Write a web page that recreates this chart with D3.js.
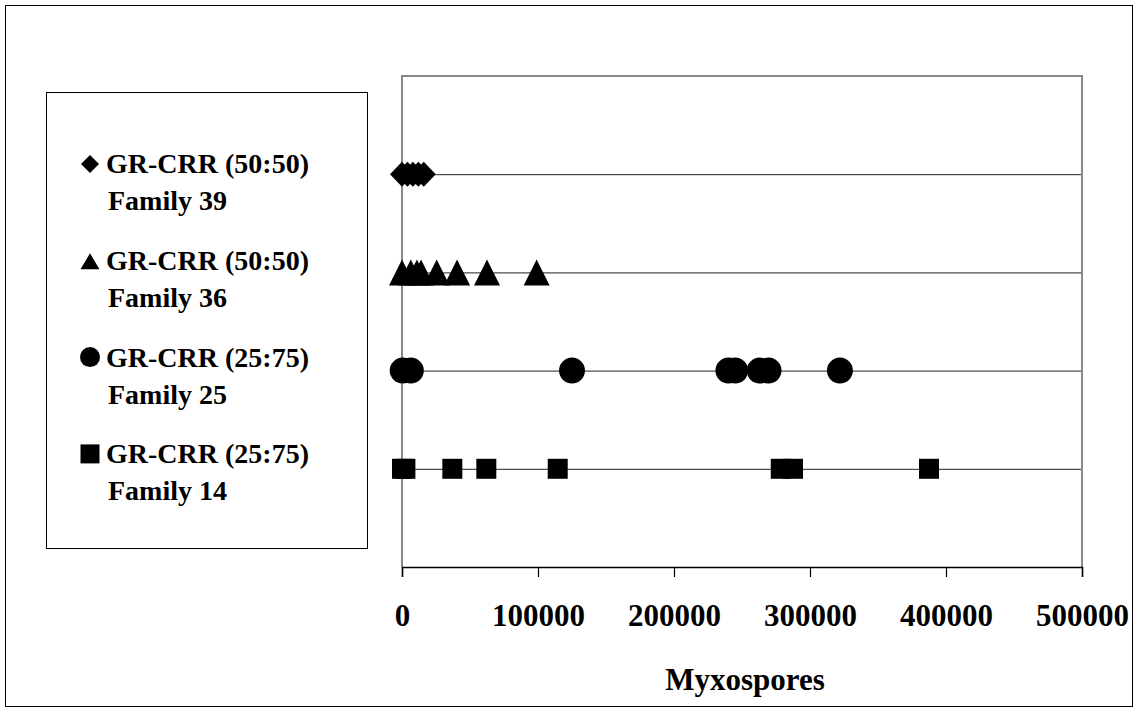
<!DOCTYPE html>
<html>
<head>
<meta charset="utf-8">
<script src="https://cdn.jsdelivr.net/npm/d3@7"></script>
<style>
  html, body { margin: 0; padding: 0; background: #fff; }
  svg text { font-family: "Liberation Serif", "Times New Roman", serif; font-weight: bold; fill: #000; }
</style>
</head>
<body>
<svg id="chart" width="1135" height="712"></svg>
<script>
// series values (myxospores)
var family39 = [0, 4000, 8000, 12000, 16000];
var family36 = [0, 6500, 11000, 14000, 25500, 40500, 62500, 99000];
var family25 = [500, 6500, 125000, 240000, 245000, 263000, 269500, 322000];
var family14 = [0, 2500, 37000, 62000, 114500, 278500, 287500, 387500];

var seriesNames = ['GR-CRR (50:50)', 'GR-CRR (50:50)', 'GR-CRR (25:75)', 'GR-CRR (25:75)'];
var familyNames = ['Family 39', 'Family 36', 'Family 25', 'Family 14'];
var shapes = ['diamond', 'triangle', 'circle', 'square'];
var rowValues = [family39, family36, family25, family14];
var rowLevels = [4, 3, 2, 1];

var xTicks = [0, 100000, 200000, 300000, 400000, 500000];
var xTitle = 'Myxospores';

(function() {
  var svg = d3.select('#chart');

  var plot = { left: 402, right: 1082, top: 76, bottom: 567 };

  var x = d3.scaleLinear().domain([0, 500000]).range([plot.left, plot.right]);
  var y = d3.scaleLinear().domain([0, 5]).range([plot.bottom, plot.top]);

  /**
   * Build a path for a marker, centred on 0,0.
   * @param {String} shape - diamond, triangle, circle or square
   * @param {Number} w - half width
   * @param {Number} h - half height
   */
  function markerPath(shape, w, h) {
    var p = d3.path();
    if (shape === 'diamond') {
      p.moveTo(0, -h); p.lineTo(w, 0); p.lineTo(0, h); p.lineTo(-w, 0); p.closePath();
    } else if (shape === 'triangle') {
      p.moveTo(0, -h); p.lineTo(w, h); p.lineTo(-w, h); p.closePath();
    } else if (shape === 'circle') {
      p.moveTo(w, 0); p.arc(0, 0, w, 0, 2 * Math.PI); p.closePath();
    } else {
      p.rect(-w, -h, 2 * w, 2 * h);
    }
    return p.toString();
  }

  var markerSize = {
    diamond: [12, 12.5],
    triangle: [13, 13],
    circle: [13, 13],
    square: [10, 10]
  };

  // outer border
  svg.append('rect')
    .attr('x', 5.5).attr('y', 5.5)
    .attr('width', 1127).attr('height', 701)
    .attr('fill', 'none').attr('stroke', '#000').attr('stroke-width', 1);

  // gridlines
  svg.append('g').selectAll('line')
    .data(rowLevels)
    .enter().append('line')
      .attr('x1', plot.left).attr('x2', plot.right)
      .attr('y1', function(d) { return y(d) + 0.5; })
      .attr('y2', function(d) { return y(d) + 0.5; })
      .attr('stroke', '#222').attr('stroke-width', 1);

  // plot frame (grey)
  svg.append('path')
    .attr('d', 'M' + plot.left + ',' + plot.bottom + 'V' + plot.top + 'H' + plot.right + 'V' + plot.bottom)
    .attr('fill', 'none').attr('stroke', '#888').attr('stroke-width', 2);

  // x axis
  var xAxis = d3.axisBottom(x)
    .tickValues(xTicks)
    .tickSize(10)
    .tickPadding(27)
    .tickFormat(d3.format('d'));

  var gx = svg.append('g')
    .attr('transform', 'translate(0,' + plot.bottom + ')')
    .call(xAxis);
  gx.select('.domain').attr('stroke', '#000').attr('stroke-width', 1.5);
  gx.selectAll('.tick line').attr('stroke', '#000').attr('stroke-width', 1.2);
  gx.selectAll('.tick text')
    .attr('font-family', '"Liberation Serif", "Times New Roman", serif')
    .attr('font-weight', 'bold')
    .attr('font-size', 31)
    .attr('fill', '#000');

  svg.append('text')
    .attr('x', (plot.left + plot.right) / 2 + 3)
    .attr('y', 690)
    .attr('text-anchor', 'middle')
    .attr('font-size', 31)
    .text(xTitle);

  // markers
  rowValues.forEach(function(vals, i) {
    var shape = shapes[i];
    var sz = markerSize[shape];
    svg.append('g').selectAll('path')
      .data(vals)
      .enter().append('path')
        .attr('d', markerPath(shape, sz[0], sz[1]))
        .attr('transform', function(d) {
          return 'translate(' + x(d) + ',' + y(rowLevels[i]) + ')';
        })
        .attr('fill', '#000');
  });

  // legend
  var legend = svg.append('g');
  legend.append('rect')
    .attr('x', 46.5).attr('y', 92.5)
    .attr('width', 321).attr('height', 456)
    .attr('fill', '#fff').attr('stroke', '#000').attr('stroke-width', 1);

  var legendMarker = {
    diamond: [9, 9, -9],
    triangle: [9.5, 8, -8.5],
    circle: [10, 10, -9.5],
    square: [9.5, 9.5, -9.5]
  };

  shapes.forEach(function(shape, i) {
    var base = 173 + i * 96.8;
    var m = legendMarker[shape];
    legend.append('path')
      .attr('d', markerPath(shape, m[0], m[1]))
      .attr('transform', 'translate(90,' + (base + m[2]) + ')')
      .attr('fill', '#000');
    legend.append('text')
      .attr('x', 106).attr('y', base)
      .attr('font-size', 28)
      .text(seriesNames[i]);
    legend.append('text')
      .attr('x', 108).attr('y', base + 37)
      .attr('font-size', 28)
      .text(familyNames[i]);
  });
})();
</script>
</body>
</html>
